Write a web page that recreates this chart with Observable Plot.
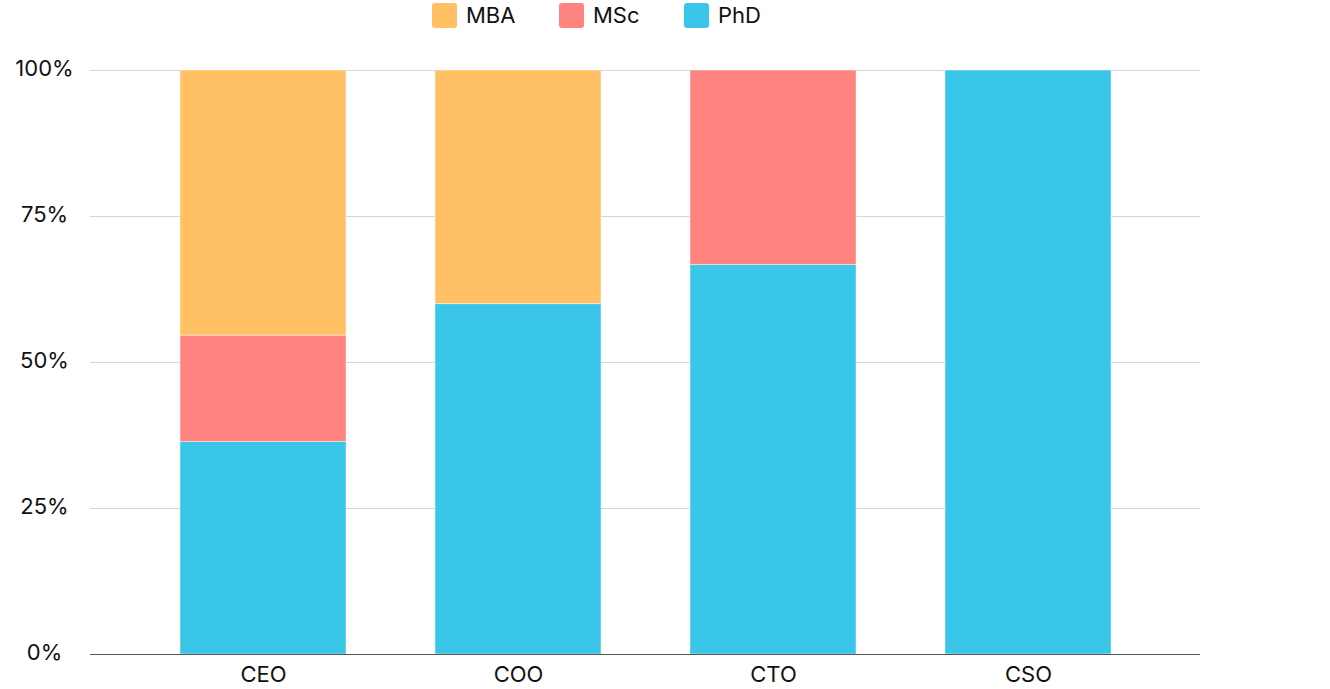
<!DOCTYPE html>
<html>
<head>
<meta charset="utf-8">
<script src="https://cdn.jsdelivr.net/npm/d3@7"></script>
<script src="https://cdn.jsdelivr.net/npm/@observablehq/plot@0.6"></script>
<style>
  html, body { margin: 0; padding: 0; background: #fff; }
  body { width: 1330px; height: 689px; overflow: hidden; font-family: Inter, "Noto Sans", sans-serif; }
  #legend { position: relative; height: 38px; width: 1330px; font-size: 22px; color: #111; }
  .item { position: absolute; top: 2px; display: flex; align-items: center; height: 26px; }
  .sw { width: 25px; height: 25px; border-radius: 3px; margin-right: 9px; }
</style>
</head>
<body>
<div id="legend"></div>
<div id="chart"></div>
<script>
const roles = ["CEO", "COO", "CTO", "CSO"];
const degrees = ["MBA", "MSc", "PhD"];
const colors = ["#FFC163", "#FF837F", "#3AC6E8"];
const phd = [36.4, 60.0, 66.7, 100.0];
const msc = [18.2, 0, 33.3, 0];
const mba = [45.4, 40.0, 0, 0];
const yTicks = [0, 25, 50, 75, 100];

// legend
const legendX = [432, 559, 684];
const legend = document.getElementById("legend");
degrees.forEach((d, i) => {
  const it = document.createElement("div");
  it.className = "item";
  it.style.left = legendX[i] + "px";
  const sw = document.createElement("div");
  sw.className = "sw";
  sw.style.background = colors[i];
  const t = document.createElement("span");
  t.textContent = d;
  it.appendChild(sw); it.appendChild(t);
  legend.appendChild(it);
});

const series = { PhD: phd, MSc: msc, MBA: mba };
const rows = [];
roles.forEach((r, i) => {
  ["PhD", "MSc", "MBA"].forEach(d => {
    rows.push({ role: r, degree: d, value: series[d][i] });
  });
});
const data = rows.filter(d => d.value > 0);

const chart = Plot.plot({
  width: 1330,
  height: 651,
  marginLeft: 90,
  marginRight: 130,
  marginTop: 32,
  marginBottom: 35,
  style: { fontFamily: "Inter, 'Noto Sans', sans-serif", fontSize: "22px", color: "#111", background: "#fff" },
  x: { domain: roles, padding: 0.35, label: null },
  y: { domain: [0, 100], axis: null },
  color: { domain: degrees, range: colors },
  marks: [
    Plot.gridY(yTicks, { stroke: "#d6d6d6", strokeOpacity: 1, strokeWidth: 1 }),
    Plot.barY(data, Plot.stackY({ x: "role", y: "value", fill: "degree", stroke: "#fff", strokeOpacity: 0.45, strokeWidth: 1, order: ["PhD", "MSc", "MBA"] })),
    Plot.ruleY([0], { stroke: "#555", strokeWidth: 1 }),
    Plot.text(yTicks, { y: d => d, text: d => d + "%", frameAnchor: "left", dx: -46, dy: -2, textAnchor: "middle", fontSize: 22, fill: "#111" }),
    Plot.axisX({ tickSize: 0, tickPadding: 12, fontSize: 22, label: null, fill: "#111" })
  ]
});
document.getElementById("chart").appendChild(chart);
</script>
</body>
</html>
